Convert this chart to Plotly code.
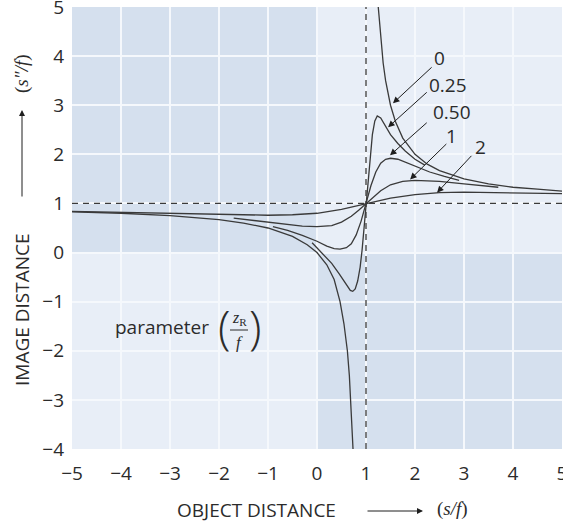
import plotly.graph_objects as go

# Normalised object distance s/f and image distance s''/f for each
# Rayleigh-range parameter z_R/f
p0_lower_x = [-5, -4, -3, -2, -1.5, -1, -0.5, -0.2, 0, 0.2, 0.35, 0.47, 0.55, 0.62, 0.66, 0.69, 0.715, 0.735]
p0_lower_y = [0.83, 0.80, 0.75, 0.67, 0.60, 0.50, 0.33, 0.16, 0.0, -0.25, -0.55, -1.0, -1.45, -2.0, -2.5, -3.0, -3.5, -4.0]
p0_upper_x = [1.25, 1.3, 1.35, 1.4, 1.5, 1.6, 1.75, 2, 2.25, 2.5, 3, 3.5, 4, 4.5, 5]
p0_upper_y = [5.0, 4.33, 3.86, 3.5, 3.0, 2.67, 2.33, 2.0, 1.8, 1.67, 1.5, 1.4, 1.33, 1.29, 1.25]

p025_x = [-0.1, 0.1, 0.3, 0.45, 0.55, 0.62, 0.68, 0.73, 0.78, 0.83, 0.88, 0.92, 0.96, 1.0,
          1.04, 1.08, 1.13, 1.18, 1.23, 1.3, 1.4, 1.5, 1.65, 1.8, 2.0, 2.2]
p025_y = [0.2, 0.0, -0.22, -0.43, -0.59, -0.70, -0.77, -0.79, -0.74, -0.58, -0.30, 0.05, 0.50, 1.0,
          1.50, 1.95, 2.40, 2.68, 2.78, 2.74, 2.56, 2.40, 2.22, 2.07, 1.90, 1.78]

p050_x = [-0.9, -0.6, -0.3, 0, 0.2, 0.35, 0.47, 0.6, 0.7, 0.8, 0.9, 1.0, 1.1, 1.2, 1.3, 1.4,
          1.5, 1.65, 1.8, 2.0, 2.3, 2.6, 2.9]
p050_y = [0.53, 0.45, 0.35, 0.23, 0.13, 0.08, 0.07, 0.10, 0.18, 0.36, 0.64, 1.0, 1.36, 1.64, 1.82, 1.90,
          1.92, 1.90, 1.84, 1.76, 1.64, 1.55, 1.47]

p1_x = [-1.7, -1.2, -0.7, -0.3, 0, 0.3, 0.5, 0.7, 0.85, 1, 1.15, 1.3, 1.5, 1.75, 2, 2.5, 3, 3.7]
p1_y = [0.70, 0.64, 0.58, 0.54, 0.53, 0.55, 0.62, 0.74, 0.86, 1.0, 1.14, 1.26, 1.38, 1.45, 1.47, 1.45, 1.40, 1.33]

p2_x = [-5, -4, -3, -2, -1, -0.5, 0, 0.5, 1, 1.5, 2, 2.5, 3, 4, 5]
p2_y = [0.84, 0.82, 0.80, 0.77, 0.76, 0.77, 0.80, 0.88, 1.0, 1.11, 1.18, 1.22, 1.23, 1.22, 1.20]

curves = [
    (p0_lower_x, p0_lower_y), (p0_upper_x, p0_upper_y),
    (p025_x, p025_y), (p050_x, p050_y), (p1_x, p1_y), (p2_x, p2_y),
]

# Curve labels: text, label position, arrow tail, arrow tip (data units)
param_labels = ["0", "0.25", "0.50", "1", "2"]
label_x = [2.49, 2.67, 2.76, 2.74, 3.33]
label_y = [3.96, 3.41, 2.86, 2.37, 2.14]
tail_x = [2.37, 2.27, 2.27, 2.67, 3.18]
tail_y = [3.80, 3.29, 2.67, 2.24, 2.00]
tip_x = [1.55, 1.45, 1.49, 1.90, 2.45]
tip_y = [3.04, 2.55, 1.98, 1.49, 1.22]

x_ticks = [-5, -4, -3, -2, -1, 0, 1, 2, 3, 4, 5]
y_ticks = [-4, -3, -2, -1, 0, 1, 2, 3, 4, 5]

LIGHT = "#e8eef7"
DARK = "#d5e0ee"
GRID = "#f5f8fc"
INK = "#3a3a3a"
TXT = "#2b2b2b"
SANS = "Open Sans, Noto Sans, sans-serif"
SERIF = "Liberation Serif, DejaVu Serif, serif"

L, R, T, B = 72, 1, 7, 73
W, H = 563, 522
PW, PH = W - L - R, H - T - B


def px(xp):
    return (xp - L) / PW


def py(yp):
    return (H - B - yp) / PH


def note(xp, yp, text, **kw):
    """Text placed at a pixel position of the figure, centred on it."""
    d = dict(x=px(xp), y=py(yp), xref="paper", yref="paper", text=text, showarrow=False,
             xanchor="center", yanchor="middle")
    d.update(kw)
    return d


def pointer(x_head, y_head, dx, dy):
    """Plain arrow in figure pixels; dx, dy give the tail offset from the head."""
    return dict(x=px(x_head), y=py(y_head), xref="paper", yref="paper", ax=dx, ay=dy, text="",
                showarrow=True, arrowhead=2, arrowsize=1.2, arrowwidth=1, arrowcolor="#1e1e1e")


fig = go.Figure()
for cx, cy in curves:
    fig.add_trace(go.Scatter(x=cx, y=cy, mode="lines", line=dict(color=INK, width=1.3),
                             hoverinfo="skip", showlegend=False))

shapes = [
    dict(type="rect", xref="x", yref="y", x0=-5, x1=0, y0=0, y1=5, fillcolor=DARK,
         line=dict(width=0), layer="below"),
    dict(type="rect", xref="x", yref="y", x0=0, x1=5, y0=-4, y1=0, fillcolor=DARK,
         line=dict(width=0), layer="below"),
    dict(type="line", xref="x", yref="y", x0=-5, x1=5, y0=1, y1=1,
         line=dict(color=INK, width=1.3, dash="6px,5px"), layer="above"),
    dict(type="line", xref="x", yref="y", x0=1, x1=1, y0=-4, y1=5,
         line=dict(color=INK, width=1.3, dash="6px,5px"), layer="above"),
    # fraction bar in the parameter label
    dict(type="line", xref="paper", yref="paper", x0=px(230), x1=px(248), y0=py(330), y1=py(330),
         line=dict(color=TXT, width=1)),
]

annotations = []
for t, lx, ly, ax, ay, tx, ty in zip(param_labels, label_x, label_y, tail_x, tail_y, tip_x, tip_y):
    annotations.append(dict(x=lx, y=ly, xref="x", yref="y", text=t, showarrow=False,
                            xanchor="center", yanchor="middle",
                            font=dict(family=SANS, size=19, color=TXT)))
    annotations.append(dict(x=tx, y=ty, ax=ax, ay=ay, xref="x", yref="y", axref="x", ayref="y",
                            text="", showarrow=True, arrowhead=2, arrowsize=1.3, arrowwidth=1,
                            arrowcolor="#1e1e1e", standoff=0))

title_font = dict(family=SANS, size=19, color=TXT)
annotations += [
    # y axis title
    note(22, 310, "IMAGE DISTANCE", textangle=-90, font=title_font),
    pointer(22, 110, 0, 88),
    note(22, 74, "(<i>s″/f</i>)", textangle=-90, font=dict(family=SERIF, size=19, color=TXT)),
    # x axis title
    note(256, 510, "OBJECT DISTANCE", font=title_font),
    pointer(423, 511, -57, 0),
    note(452, 509, "(<i>s/f</i>)", font=dict(family=SERIF, size=19, color=TXT)),
    # parameter label with (z_R / f)
    note(162, 327, "parameter", font=dict(family=SANS, size=19, color=TXT)),
    note(224, 326, "(", font=dict(family=SANS, size=46, color=TXT, weight=300)),
    note(255, 326, ")", font=dict(family=SANS, size=46, color=TXT, weight=300)),
    note(239, 318, "<i>z</i><sub>R</sub>", font=dict(family=SERIF, size=16, color=TXT)),
    note(239, 342, "<i>f</i>", font=dict(family=SERIF, size=17, color=TXT)),
]

axis_common = dict(showgrid=True, gridcolor=GRID, gridwidth=2, zeroline=False, showline=False,
                   ticks="", ticklabeloverflow="allow", automargin=False,
                   tickfont=dict(family=SANS, size=19, color=TXT))

fig.update_layout(
    width=W, height=H, autosize=False,
    margin=dict(l=L, r=R, t=T, b=B),
    paper_bgcolor="white", plot_bgcolor=LIGHT,
    xaxis=dict(range=[-5, 5], tickmode="array", tickvals=x_ticks,
               ticktext=[str(v).replace("-", "−") for v in x_ticks], ticklabelstandoff=11, **axis_common),
    yaxis=dict(range=[-4, 5], tickmode="array", tickvals=y_ticks,
               ticktext=[str(v).replace("-", "−") for v in y_ticks], ticklabelstandoff=7, **axis_common),
    shapes=shapes, annotations=annotations,
)

fig.write_html("out.html")
